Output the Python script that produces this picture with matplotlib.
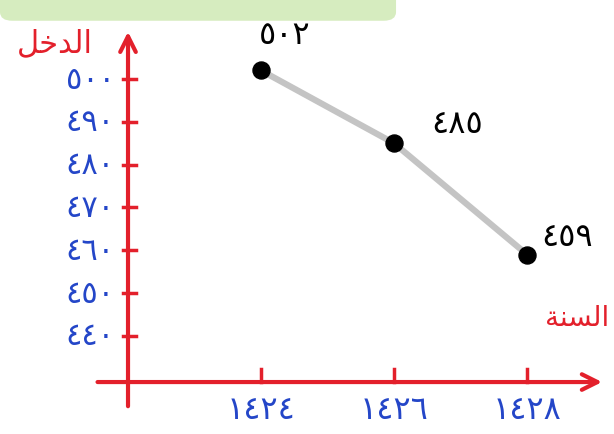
import matplotlib
matplotlib.use("Agg")
import matplotlib.pyplot as plt
from matplotlib.patches import FancyBboxPatch

# data
years = [1424, 1426, 1428]
year_labels = ["١٤٢٤", "١٤٢٦", "١٤٢٨"]
income = [502, 485, 459]
income_labels = ["٥٠٢", "٤٨٥", "٤٥٩"]
y_ticks = [500, 490, 480, 470, 460, 450, 440]
y_tick_labels = ["٥٠٠", "٤٩٠", "٤٨٠", "٤٧٠", "٤٦٠", "٤٥٠", "٤٤٠"]

# arabic titles in visual order (presentation forms, since matplotlib does no shaping)
y_title = "\uFEDE\uFEA7\uFEAA\uFEDF\uFE8D"   # الدخل
x_title = "\uFE94\uFEE8\uFEB4\uFEDF\uFE8D"   # السنة

RED = "#e3202b"
BLUE = "#2446c8"
GRAY = "#c4c4c4"

plt.rcParams["font.family"] = ["DejaVu Sans"]

fig = plt.figure(figsize=(6.14, 4.35), dpi=100)
ax = fig.add_axes([0, 0, 1, 1])
ax.set_xlim(1420.075, 1429.308)
ax.set_ylim(417.06, 518.7)
ax.axis("off")

# green highlight band at the top
ax.add_patch(FancyBboxPatch((0.0, 0.95), 0.645, 0.07, boxstyle="round,pad=0,rounding_size=0.02",
                            transform=ax.transAxes, facecolor="#d6ecbf", edgecolor="none"))

# axes drawn as red arrows
x0 = 1422.0
y0 = 429.2
ax.annotate("", xy=(1429.17, y0), xytext=(1421.5, y0),
            arrowprops=dict(arrowstyle="->", color=RED, lw=3, mutation_scale=28))
ax.annotate("", xy=(x0, 511.7), xytext=(x0, 422.9),
            arrowprops=dict(arrowstyle="->", color=RED, lw=3, mutation_scale=28))

# ticks
for yr, lab in zip(years, year_labels):
    ax.plot([yr, yr], [y0, y0 + 3.0], color=RED, lw=2.5)
    ax.text(yr, 422.8, lab, color=BLUE, fontsize=23, ha="center", va="center")
for v, lab in zip(y_ticks, y_tick_labels):
    ax.plot([x0 - 0.08, x0 + 0.12], [v, v], color=RED, lw=2.5)
    ax.text(x0 - 0.2, v, lab, color=BLUE, fontsize=22, ha="right", va="center")

ax.text(1420.9, 508.5, y_title, color=RED, fontsize=22, ha="center", va="center")
ax.text(1428.75, 444.5, x_title, color=RED, fontsize=20, ha="center", va="center")

# the data line
ax.plot(years, income, color=GRAY, lw=4.5, zorder=2)
ax.scatter(years, income, s=150, color="black", zorder=3)
offsets = [(0.35, 8.5), (0.95, 4.5), (0.6, 4.3)]
for yr, v, lab, off in zip(years, income, income_labels, offsets):
    ax.text(yr + off[0], v + off[1], lab, color="black", fontsize=23, ha="center", va="center")

fig.savefig("out.png", dpi=100)
